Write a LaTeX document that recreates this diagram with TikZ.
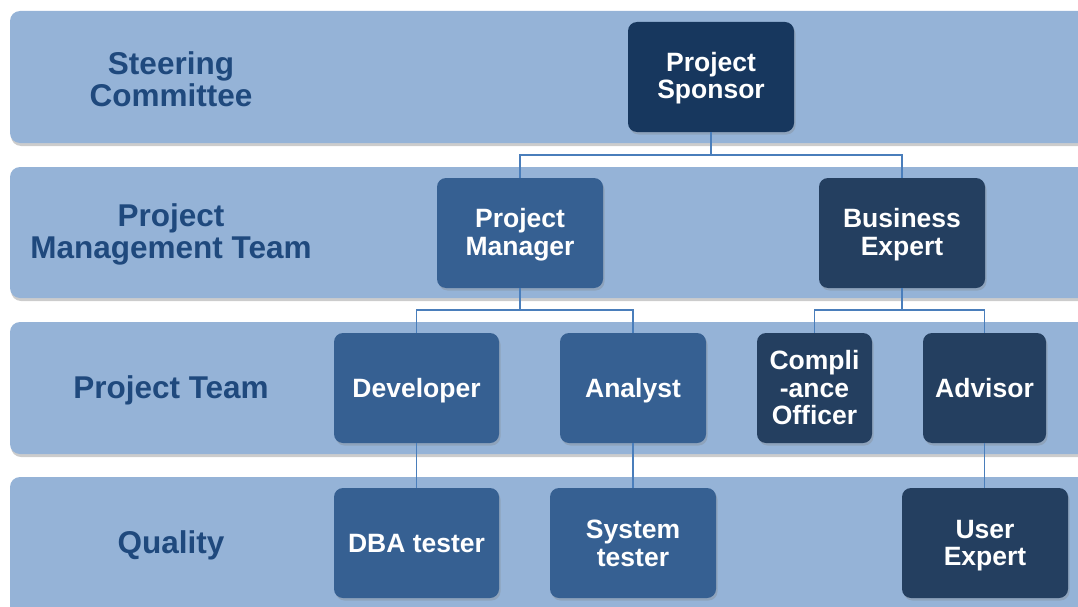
\documentclass[tikz,border=0pt]{standalone}
\usepackage{fontspec}
\setmainfont{Liberation Sans}
\usetikzlibrary{shadows}
\definecolor{bandc}{HTML}{95B3D7}
\definecolor{labc}{HTML}{1F497D}
\definecolor{darkc}{HTML}{17375E}
\definecolor{midc}{HTML}{366092}
\definecolor{navc}{HTML}{243F60}
\definecolor{linec}{HTML}{4A7EBB}
\tikzset{
  band/.style={fill=bandc, rounded corners=10pt, drop shadow={opacity=0.4, shadow xshift=1pt, shadow yshift=-3pt}},
  bandlab/.style={text=labc, font=\fontsize{31.5}{32}\selectfont\bfseries, align=center, yshift=-2pt},
  box/.style={rounded corners=9pt, inner sep=0pt, minimum height=110pt, drop shadow={opacity=0.3, shadow xshift=1.5pt, shadow yshift=-2.5pt}},
  boxtxt/.style={text=white, font=\fontsize{26.5}{27.5}\selectfont\bfseries, align=center, inner sep=0pt, yshift=-1.5pt},
  conn/.style={draw=linec, line width=1.8pt}
}
\begin{document}
\begin{tikzpicture}[x=1pt,y=-1pt]
\useasboundingbox (0,0) rectangle (1078,607);
% bands
\path[band] (10,11) rectangle (1100,143);
\path[band] (10,167) rectangle (1100,298);
\path[band] (10,322) rectangle (1100,454);
\path[band] (10,477) rectangle (1100,630);
% band labels
\node[bandlab] (l1) at (171,77) {Steering\\Committee};
\node[bandlab] (l2) at (171,232) {Project\\Management Team};
\node[bandlab] (l3) at (171,388) {Project Team};
\node[bandlab] (l4) at (171,543) {Quality};
% nodes
\node[box, fill=darkc, minimum width=166pt, label={[boxtxt, yshift=0.5pt]center:{Project\\Sponsor}}] (ps) at (711,77) {};
\node[box, fill=midc, minimum width=166pt, label={[boxtxt]center:{Project\\Manager}}] (pm) at (520,233) {};
\node[box, fill=navc, minimum width=166pt, label={[boxtxt]center:{Business\\Expert}}] (be) at (902,233) {};
\node[box, fill=midc, minimum width=165pt, label={[boxtxt, yshift=-1.5pt]center:{Developer}}] (dev) at (416.5,388) {};
\node[box, fill=midc, minimum width=146pt, label={[boxtxt, yshift=-1.5pt]center:{Analyst}}] (an) at (633,388) {};
\node[box, fill=navc, minimum width=115pt, label={[boxtxt, yshift=1.5pt]center:{Compli\\-ance\\Officer}}] (co) at (814.5,388) {};
\node[box, fill=navc, minimum width=123pt, label={[boxtxt, yshift=1.5pt]center:{Advisor}}] (adv) at (984.5,388) {};
\node[box, fill=midc, minimum width=165pt, label={[boxtxt, yshift=0.5pt]center:{DBA tester}}] (dba) at (416.5,543) {};
\node[box, fill=midc, minimum width=166pt, label={[boxtxt, yshift=1pt]center:{System\\tester}}] (sys) at (633,543) {};
\node[box, fill=navc, minimum width=166pt, label={[boxtxt, yshift=-1pt]center:{User\\Expert}}] (ue) at (985,543) {};
% connectors
\draw[conn] (ps.south) -- ++(0,23) -| (pm.north);
\draw[conn] (ps.south) -- ++(0,23) -| (be.north);
\draw[conn] (pm.south) -- ++(0,22) -| (dev.north);
\draw[conn] (pm.south) -- ++(0,22) -| (an.north);
\draw[conn] (be.south) -- ++(0,22) -| (co.north);
\draw[conn] (be.south) -- ++(0,22) -| (adv.north);
\draw[conn] (dev.south) -- (dba.north);
\draw[conn] (an.south) -- (sys.north);
\draw[conn] (adv.south) -- (adv.south |- ue.north);
\end{tikzpicture}
\end{document}
